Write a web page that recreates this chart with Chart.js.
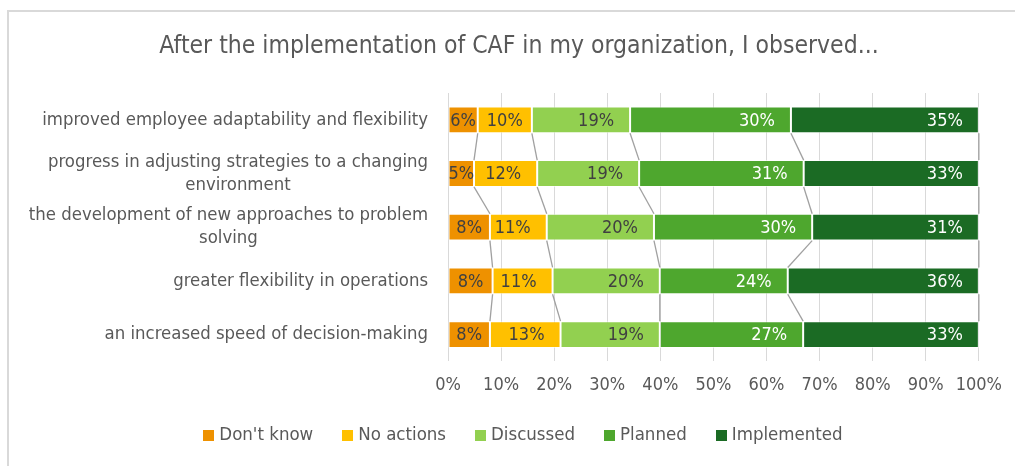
<!DOCTYPE html>
<html>
<head>
<meta charset="utf-8">
<script src="https://cdn.jsdelivr.net/npm/chart.js@4.4.1/dist/chart.umd.min.js"></script>
<style>
  html, body { margin: 0; padding: 0; background: #ffffff; overflow: hidden; }
  #wrap { position: relative; width: 1015px; height: 466px; }
  canvas { position: absolute; left: 0; top: 0; }
</style>
</head>
<body>
<div id="wrap"><canvas id="c" width="1015" height="466"></canvas></div>
<script>
// ---- data ----
const titleText = "After the implementation of CAF in my organization, I observed...";
const categories = [
  ["improved employee adaptability and flexibility"],
  ["progress in adjusting strategies to a changing", "environment"],
  ["the development of new approaches to problem", "solving"],
  ["greater flexibility in operations"],
  ["an increased speed of decision-making"]
];
const seriesNames = ["Don't know", "No actions", "Discussed", "Planned", "Implemented"];
const dontKnow    = [5.6, 4.9, 7.9, 8.4, 7.9];
const noActions   = [10.2, 11.9, 10.7, 11.3, 13.3];
const discussed   = [18.5, 19.2, 20.2, 20.2, 18.7];
const planned     = [30.3, 31.0, 29.8, 24.1, 27.0];
const implemented = [35.4, 33.0, 31.4, 36.0, 33.1];
const xTicks = [0, 10, 20, 30, 40, 50, 60, 70, 80, 90, 100];

const colors = ["#EE9100", "#FFC000", "#92D050", "#4EA72E", "#1B6B24"];
const labelColors = ["#404040", "#404040", "#404040", "#ffffff", "#ffffff"];
const FONT = "'Liberation Sans Narrow', 'DejaVu Sans Condensed', 'Liberation Sans', sans-serif";
const TEXT = "#595959";

const seriesValues = [dontKnow, noActions, discussed, planned, implemented];

const framePlugin = {
  id: 'frame',
  beforeDraw(chart) {
    const ctx = chart.ctx;
    ctx.save();
    ctx.fillStyle = '#ffffff';
    ctx.fillRect(0, 0, chart.width, chart.height);
    ctx.strokeStyle = '#D9D9D9';
    ctx.lineWidth = 2;
    ctx.strokeRect(8, 11, chart.width + 10, chart.height + 10);
    ctx.restore();
  }
};

const titleLegendPlugin = {
  id: 'titleLegend',
  afterDraw(chart) {
    const ctx = chart.ctx;
    ctx.save();
    // title
    ctx.font = "24.5px " + FONT;
    ctx.fillStyle = TEXT;
    ctx.textAlign = 'center';
    ctx.textBaseline = 'middle';
    ctx.fillText(titleText, 519, 47);
    // legend
    ctx.font = "18.5px " + FONT;
    ctx.textAlign = 'left';
    const box = 11, gap = 5, spacing = 29;
    const widths = seriesNames.map(n => ctx.measureText(n).width);
    const total = widths.reduce((a, w) => a + box + gap + w, 0) + spacing * (seriesNames.length - 1);
    let x = 523 - total / 2;
    const cy = 435;
    seriesNames.forEach((n, k) => {
      ctx.fillStyle = colors[k];
      ctx.fillRect(Math.round(x), Math.round(cy - box / 2), box, box);
      ctx.fillStyle = TEXT;
      ctx.fillText(n, x + box + gap, cy);
      x += box + gap + widths[k] + spacing;
    });
    ctx.restore();
  }
};

const categoryLabelPlugin = {
  id: 'catLabels',
  afterDraw(chart) {
    const ctx = chart.ctx;
    const yScale = chart.scales.y;
    const right = chart.chartArea.left - 20;
    ctx.save();
    ctx.font = "18.4px " + FONT;
    ctx.fillStyle = TEXT;
    ctx.textBaseline = 'middle';
    ctx.textAlign = 'center';
    const lh = 23;
    categories.forEach((lines, i) => {
      const cy = yScale.getPixelForValue(i);
      const maxW = Math.max(...lines.map(l => ctx.measureText(l).width));
      const cx = right - maxW / 2;
      const y0 = cy - (lines.length - 1) * lh / 2;
      lines.forEach((l, j) => ctx.fillText(l, cx, y0 + j * lh));
    });
    ctx.restore();
  }
};

const seriesLinePlugin = {
  id: 'seriesLines',
  afterDatasetsDraw(chart) {
    const ctx = chart.ctx;
    ctx.save();
    ctx.strokeStyle = '#A0A0A0';
    ctx.lineWidth = 1.3;
    chart.data.datasets.forEach((ds, k) => {
      const meta = chart.getDatasetMeta(k);
      for (let i = 0; i < meta.data.length - 1; i++) {
        const a = meta.data[i], b = meta.data[i + 1];
        ctx.beginPath();
        ctx.moveTo(a.x, a.y + a.height / 2);
        ctx.lineTo(b.x, b.y - b.height / 2);
        ctx.stroke();
      }
    });
    ctx.restore();
  }
};

const dataLabelPlugin = {
  id: 'dataLabels',
  afterDatasetsDraw(chart) {
    const ctx = chart.ctx;
    ctx.save();
    ctx.font = "18px " + FONT;
    ctx.textBaseline = 'middle';
    ctx.textAlign = 'left';
    chart.data.datasets.forEach((ds, k) => {
      const meta = chart.getDatasetMeta(k);
      meta.data.forEach((bar, i) => {
        const txt = Math.round(ds.data[i]) + '%';
        const w = ctx.measureText(txt).width;
        const start = bar.base, end = bar.x;
        let x = end - 16 - w;
        if (x < start + 3) x = start + (end - start - w) / 2;
        ctx.fillStyle = labelColors[k];
        ctx.fillText(txt, x, bar.y + 1);
      });
    });
    ctx.restore();
  }
};

new Chart(document.getElementById('c'), {
  type: 'bar',
  data: {
    labels: categories.map(c => c.join(' ')),
    datasets: seriesNames.map((name, k) => ({
      label: name,
      data: seriesValues[k],
      backgroundColor: colors[k],
      borderColor: 'rgba(255,255,255,0.6)',
      borderWidth: 1,
      borderSkipped: false,
      categoryPercentage: 1.0,
      barPercentage: 0.5
    }))
  },
  options: {
    indexAxis: 'y',
    responsive: false,
    animation: false,
    devicePixelRatio: 1,
    layout: { padding: { left: 8, right: 36, top: 93, bottom: 57 } },
    scales: {
      x: {
        stacked: true,
        min: 0, max: 100,
        afterBuildTicks: s => { s.ticks = xTicks.map(v => ({ value: v })); },
        grid: { color: '#D9D9D9', lineWidth: 1, drawTicks: false },
        border: { display: false },
        ticks: {
          padding: 13,
          color: TEXT,
          font: { family: FONT, size: 18 },
          callback: v => v + '%',
          maxRotation: 0
        }
      },
      y: {
        stacked: true,
        grid: { display: false },
        border: { display: false },
        ticks: { display: false },
        afterFit: s => { s.width = 440; }
      }
    },
    plugins: {
      title: { display: false },
      legend: { display: false },
      tooltip: { enabled: false }
    }
  },
  plugins: [framePlugin, titleLegendPlugin, categoryLabelPlugin, seriesLinePlugin, dataLabelPlugin]
});
</script>
</body>
</html>
